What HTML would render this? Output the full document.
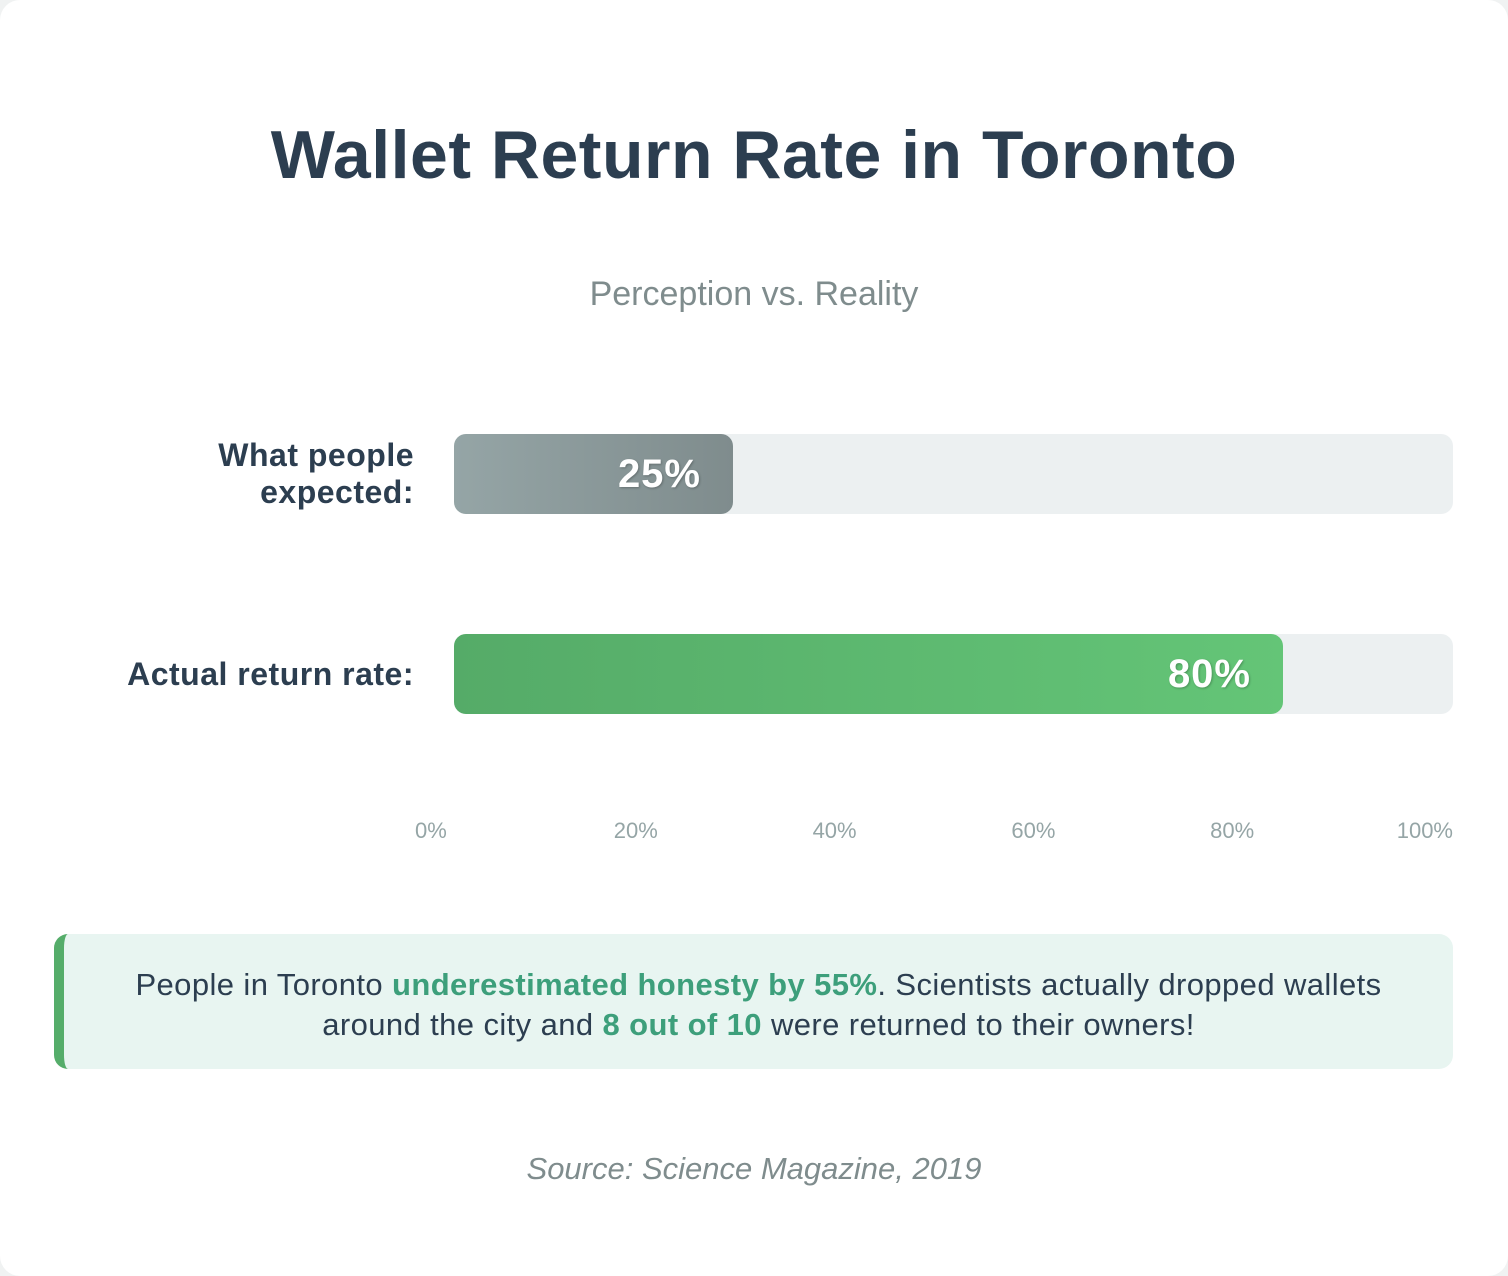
<!DOCTYPE html>
<html><head><meta charset="utf-8"><style>
html,body{margin:0;padding:0;background:#f0f2f2;}
body{width:1508px;height:1276px;position:relative;overflow:hidden;font-family:"Liberation Sans","DejaVu Sans",sans-serif;}
.card{position:absolute;left:0;top:0;width:1508px;height:1276px;background:#fff;border-radius:20px;}
h1{position:absolute;top:116px;left:0;width:1508px;text-align:center;margin:0;font-size:68px;font-weight:bold;color:#2c3e50;letter-spacing:0.5px;}
.sub{position:absolute;top:275px;width:1508px;text-align:center;font-size:34px;color:#7f8c8d;}
.lab{position:absolute;right:1094px;text-align:right;font-size:32px;font-weight:bold;color:#2c3e50;line-height:37px;letter-spacing:0.5px;}
.track{position:absolute;left:454px;width:999px;height:80px;background:#ecf0f1;border-radius:12px;}
.bar{position:absolute;left:0;top:0;height:80px;border-radius:12px;color:#fff;font-weight:bold;font-size:40px;letter-spacing:1px;display:flex;align-items:center;justify-content:flex-end;box-sizing:border-box;padding-right:32px;text-shadow:1px 1px 2px rgba(0,0,0,.25);}
#ticks{position:absolute;left:415px;width:1038px;top:818px;height:30px;}
.tick{position:absolute;top:0;font-size:22px;color:#95a5a6;}
.call{position:absolute;left:54px;top:934px;width:1399px;height:135px;box-sizing:border-box;background:#e8f5f1;border-left:10px solid #55ad6a;border-radius:14px;text-align:center;font-size:31px;letter-spacing:0.4px;color:#2c3e50;line-height:40px;padding-top:31px;}
.call b{color:#3d9f7b;}
.src{position:absolute;top:1151px;width:1508px;text-align:center;font-size:31px;font-style:italic;color:#7f8c8d;}
</style></head><body>
<div class="card">
<h1>Wallet Return Rate in Toronto</h1>
<div class="sub">Perception vs. Reality</div>
<div id="rows"></div>
<div id="ticks"></div>
<div class="call">People in Toronto <b>underestimated honesty by 55%</b>. Scientists actually dropped wallets<br>around the city and <b>8 out of 10</b> were returned to their owners!</div>
<div class="src">Source: Science Magazine, 2019</div>
</div>
<script>
const categories=["What people<br>expected:","Actual return rate:"];
const values=[25,80];
const tickLabels=["0%","20%","40%","60%","80%","100%"];
const tickValues=[0,20,40,60,80,100];
const rowTops=[434,634];
const fills=["linear-gradient(90deg,#95a5a6,#7f8c8d)","linear-gradient(90deg,#55ab68,#64c577)"];
function barW(v){return 29+v*10;}
function tickFrac(v){return v/100;}
const rows=document.getElementById('rows');
categories.forEach((c,i)=>{
  const l=document.createElement('div');l.className='lab';
  
  
  l.innerHTML=c;
  const lines=c.split('<br>').length;
  l.style.top=(rowTops[i]+40-lines*18.5)+'px';
  rows.appendChild(l);
  const t=document.createElement('div');t.className='track';
  
  
  t.style.top=rowTops[i]+'px';
  const b=document.createElement('div');b.className='bar';
  
  
  b.style.width=barW(values[i])+'px';b.style.background=fills[i];
  b.textContent=values[i]+'%';
  t.appendChild(b);rows.appendChild(t);
});
const tk=document.getElementById('ticks');
tickValues.forEach((v,i)=>{
  const d=document.createElement('div');d.className='tick';
  
  
  d.textContent=tickLabels[i];
  const f=tickFrac(v);
  d.style.left=(f*100)+'%';
  d.style.transform='translateX(-'+(f*100)+'%)';
  tk.appendChild(d);
});
</script>
</body></html>
